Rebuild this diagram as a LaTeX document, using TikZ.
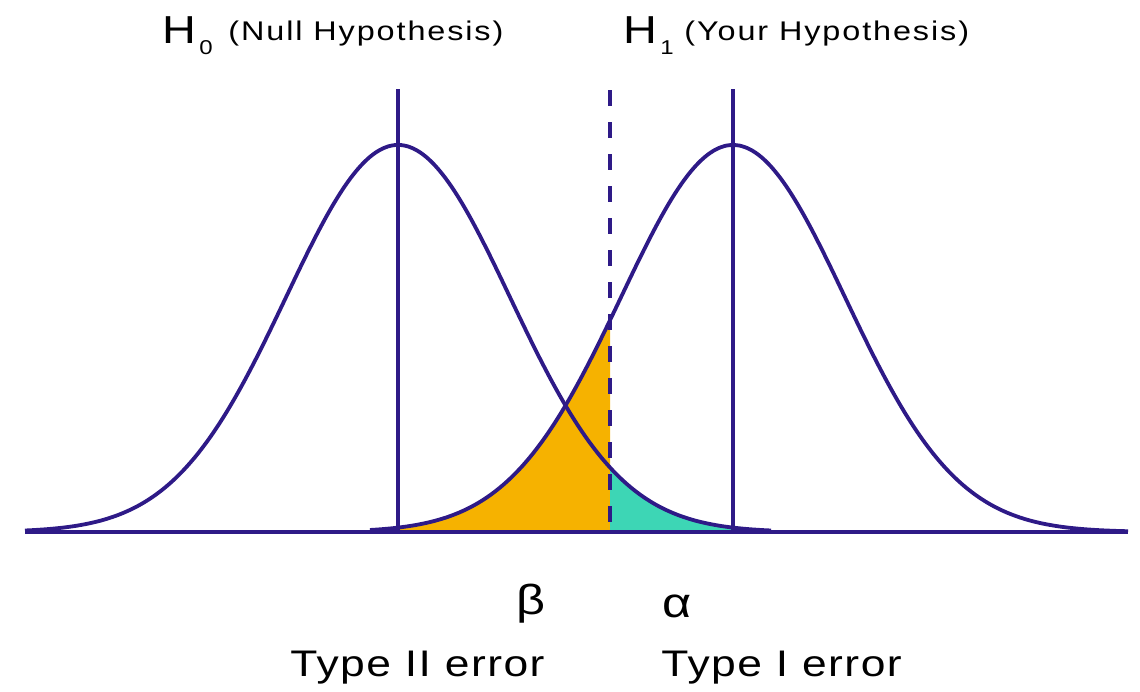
\documentclass[tikz,border=0pt]{standalone}
\usepackage{fontspec}
\setmainfont{Liberation Sans}
\newfontfamily\headfont[FakeStretch=1.2,LetterSpace=7]{Liberation Sans}
\newfontfamily\bigfont[FakeStretch=1.2]{Liberation Sans}
\newfontfamily\lowfont[FakeStretch=1.2,LetterSpace=4]{Liberation Sans}
\definecolor{ink}{HTML}{2E1A87}
\definecolor{betafill}{HTML}{F6B200}
\definecolor{alphafill}{HTML}{3DD6B5}
\begin{document}
\begin{tikzpicture}[x=0.5pt,y=-0.5pt,
  declare function={hzero(\x)=532-387*exp(-0.5*((\x-398)/112)^2);
                    hone(\x)=532-387*exp(-0.5*((\x-733)/112)^2);},
  bell/.style={ink,line width=1.9pt,samples=120,smooth},
  mark line/.style={ink,line width=1.6pt},
  cut line/.style={ink,line width=1.8pt,dash pattern=on 8pt off 8pt},
  big/.style={inner sep=0,font=\bigfont\fontsize{19.5}{22}\selectfont},
  sub/.style={inner sep=0,font=\bigfont\fontsize{10}{12}\selectfont},
  head/.style={inner sep=0,font=\headfont\fontsize{13.5}{16}\selectfont},
  low/.style={inner sep=0,font=\lowfont\fontsize{18.5}{21}\selectfont},
  greek/.style={inner sep=0,font=\bigfont\fontsize{21}{24}\selectfont}]
\useasboundingbox (0,0) rectangle (1140,691);
\coordinate (left) at (25,532);
\coordinate (right) at (1128,532);
\coordinate (top0) at (398,89);
\coordinate (foot0) at (398,532);
\coordinate (top1) at (733,89);
\coordinate (foot1) at (733,532);
\coordinate (topc) at (610,90);
\coordinate (footc) at (610,532);
\fill[betafill] (foot0) -- plot[domain=398:610,samples=60] (\x,{hone(\x)}) -- (footc) -- cycle;
\fill[alphafill] (footc) -- plot[domain=610:771,samples=60] (\x,{hzero(\x)}) -- cycle;
\draw[bell] plot[domain=25:771] (\x,{hzero(\x)});
\draw[bell] plot[domain=370:1128] (\x,{hone(\x)});
\draw[mark line] (top0) -- (foot0);
\draw[mark line] (top1) -- (foot1);
\draw[cut line] (topc) -- (footc);
\draw[mark line] (left) -- (right);
\node[big,anchor=base west] (H0) at (162,43) {H};
\node[sub,anchor=base west] (s0) at (199,54) {0};
\node[head,anchor=base west] (null) at (228,40) {(Null Hypothesis)};
\node[big,anchor=base west] (H1) at (623,43) {H};
\node[sub,anchor=base west] (s1) at (660,54) {1};
\node[head,anchor=base west] (yours) at (684,40) {(Your Hypothesis)};
\node[greek,anchor=base] (beta) at (531,614) {β};
\node[greek,anchor=base] (alpha) at (677,617) {α};
\node[low,anchor=base west] (type2) at (290,676) {Type II error};
\node[low,anchor=base west] (type1) at (661,676) {Type I error};
\end{tikzpicture}
\end{document}
